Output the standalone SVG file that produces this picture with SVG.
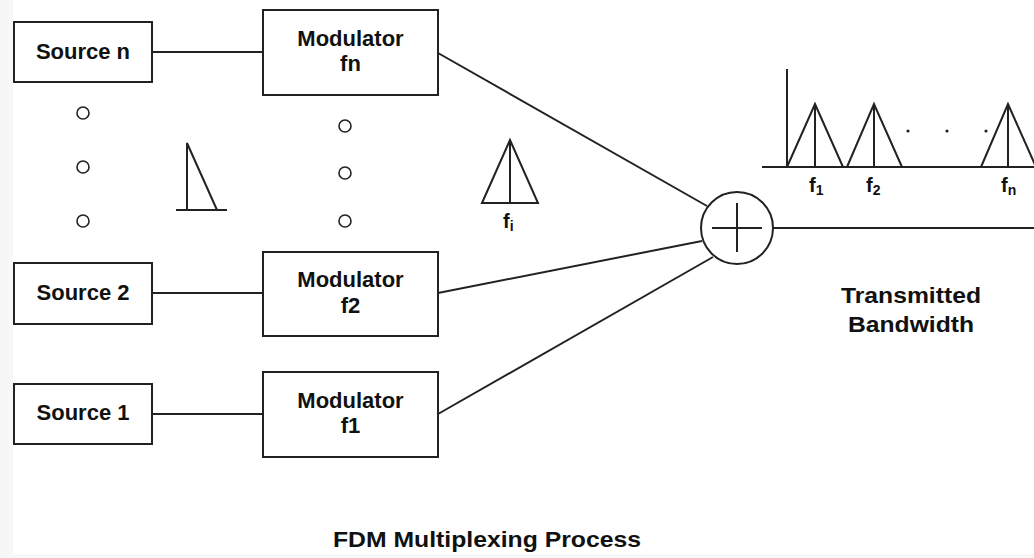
<svg xmlns="http://www.w3.org/2000/svg" width="1034" height="558" viewBox="0 0 1034 558">
<style>
.box{fill:#fff;stroke:#222;stroke-width:2}
.ln{fill:none;stroke:#222;stroke-width:2}
.t{font-family:"Liberation Sans",Arial,sans-serif;font-weight:bold;font-size:22px;fill:#111;text-anchor:middle}
.f{font-family:"Liberation Sans",Arial,sans-serif;font-weight:bold;font-size:20px;fill:#111}
.sub{font-size:14px}
.dot{fill:#fff;stroke:#222;stroke-width:1.6}
</style>
<rect x="0" y="0" width="1034" height="558" fill="#f8f7f7"/>
<rect x="13" y="0" width="1021" height="554" fill="#fff"/>

<g id="connectors">
<line class="ln" x1="152" y1="52" x2="263" y2="52"/>
<line class="ln" x1="152" y1="293" x2="263" y2="293"/>
<line class="ln" x1="152" y1="414" x2="263" y2="414"/>
<line class="ln" x1="438" y1="53" x2="707" y2="206"/>
<line class="ln" x1="438" y1="293" x2="702" y2="241"/>
<line class="ln" x1="438" y1="414" x2="713" y2="257"/>
<line class="ln" x1="773" y1="228" x2="1034" y2="228"/>
</g>

<g id="source-n"><rect class="box" x="14" y="22" width="138" height="60"/><text class="t" x="83" y="59">Source n</text></g>
<g id="source-2"><rect class="box" x="14" y="263" width="138" height="61"/><text class="t" x="83" y="300">Source 2</text></g>
<g id="source-1"><rect class="box" x="14" y="384" width="138" height="60"/><text class="t" x="83" y="420">Source 1</text></g>

<g id="modulator-fn"><rect class="box" x="263" y="10" width="175" height="85"/><text class="t" x="350.5" y="46">Modulator</text><text class="t" x="350.5" y="71">fn</text></g>
<g id="modulator-f2"><rect class="box" x="263" y="252" width="175" height="84"/><text class="t" x="350.5" y="287">Modulator</text><text class="t" x="350.5" y="313">f2</text></g>
<g id="modulator-f1"><rect class="box" x="263" y="372" width="175" height="85"/><text class="t" x="350.5" y="408">Modulator</text><text class="t" x="350.5" y="433">f1</text></g>

<g id="ellipsis-sources">
<circle class="dot" cx="83" cy="113" r="6"/><circle class="dot" cx="83" cy="167" r="6"/><circle class="dot" cx="83" cy="221" r="6"/>
</g>
<g id="ellipsis-modulators">
<circle class="dot" cx="345" cy="126" r="6"/><circle class="dot" cx="345" cy="173" r="6"/><circle class="dot" cx="345" cy="221" r="6"/>
</g>

<g id="baseband-spectrum">
<polyline class="ln" points="187,210 187,143 217,210"/>
<line class="ln" x1="176" y1="210" x2="227" y2="210"/>
</g>

<g id="fi-spectrum">
<polygon class="ln" points="482,203 510,140 538,203"/>
<line class="ln" x1="510" y1="140" x2="510" y2="203"/>
<text class="f" x="503" y="228">f<tspan class="sub" dy="3">i</tspan></text>
</g>

<g id="summer">
<circle class="ln" cx="737" cy="228" r="36" fill="#fff"/>
<line class="ln" x1="712" y1="228" x2="762" y2="228"/>
<line class="ln" x1="737" y1="203" x2="737" y2="252"/>
</g>

<g id="output-spectrum">
<line class="ln" x1="787" y1="69" x2="787" y2="167"/>
<line class="ln" x1="762" y1="167" x2="1034" y2="167"/>
<polyline class="ln" points="787,167 815,104 843,167"/><line class="ln" x1="815" y1="104" x2="815" y2="167"/>
<polyline class="ln" points="847,167 874,104 902,167"/><line class="ln" x1="874" y1="104" x2="874" y2="167"/>
<polyline class="ln" points="981,167 1008,104 1036,167"/><line class="ln" x1="1008" y1="104" x2="1008" y2="167"/>
<circle cx="908" cy="131" r="1.6" fill="#222"/><circle cx="947" cy="131" r="1.6" fill="#222"/><circle cx="986" cy="131" r="1.6" fill="#222"/>
<text class="f" x="809" y="192">f<tspan class="sub" dy="3">1</tspan></text>
<text class="f" x="866" y="192">f<tspan class="sub" dy="3">2</tspan></text>
<text class="f" x="1001" y="192">f<tspan class="sub" dy="3">n</tspan></text>
</g>

<g id="transmitted-bandwidth">
<text class="t" x="911" y="303" textLength="140" lengthAdjust="spacingAndGlyphs">Transmitted</text>
<text class="t" x="911" y="332" textLength="126" lengthAdjust="spacingAndGlyphs">Bandwidth</text>
</g>

<g id="title">
<text class="t" x="487" y="547" textLength="308" lengthAdjust="spacingAndGlyphs">FDM Multiplexing Process</text>
</g>
</svg>
